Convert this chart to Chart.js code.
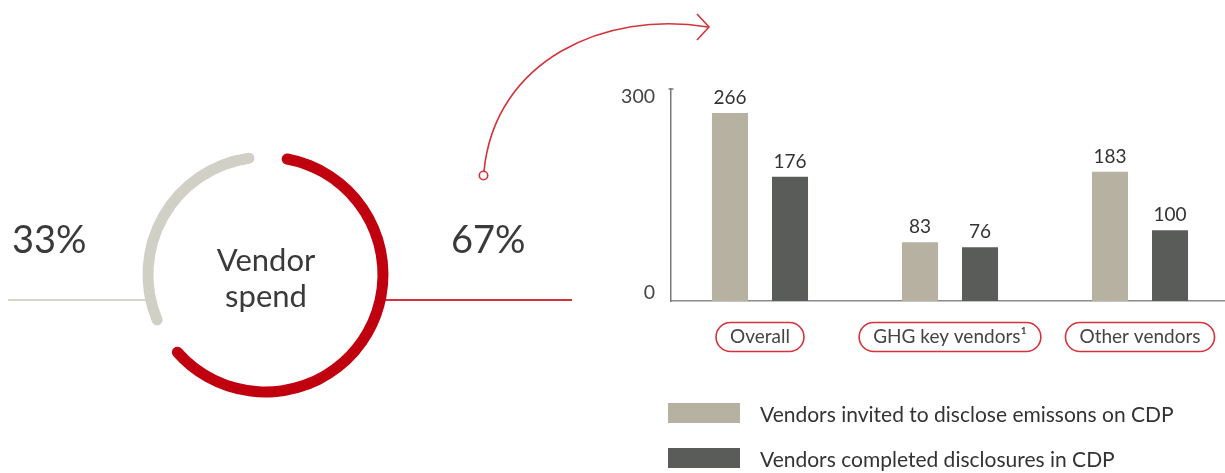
<!DOCTYPE html>
<html>
<head>
<meta charset="utf-8">
<script src="https://cdn.jsdelivr.net/npm/chart.js@4.4.0/dist/chart.umd.min.js"></script>
<style>
  html, body { margin: 0; padding: 0; background: #fff; overflow: hidden; width: 1225px; height: 473px; }
  #wrap { position: relative; width: 1225px; height: 473px; overflow: hidden; font-family: Lato, "Noto Sans", sans-serif; color: #333; }
  canvas { position: absolute; top: 0; }
  #donut { left: 0; }
  #bars { left: 563px; }
  .t { position: absolute; white-space: nowrap; font-weight: 400; color: #3a3a3a; }
  #pctGray, #pctRed { font-size: 38px; line-height: 38px; top: 219px; }
  #pctGray { left: 12px; }
  #pctRed { left: 451px; }
  #center { left: 166px; width: 200px; text-align: center; font-size: 31px; line-height: 36px; top: 241px; }
  #legend { position: absolute; left: 668px; top: 403px; }
  .lg { display: flex; align-items: center; height: 20px; margin-bottom: 25px; font-size: 21px; color: #333; white-space: nowrap; }
  .lg .sw { width: 72px; height: 20px; margin-right: 20px; flex: none; }
</style>
</head>
<body>
<div id="wrap">
  <canvas id="donut" width="1225" height="473"></canvas>
  <canvas id="bars" width="697" height="473"></canvas>
  <div class="t" id="pctGray"></div>
  <div class="t" id="pctRed"></div>
  <div class="t" id="center">Vendor<br>spend</div>
  <div id="legend"></div>
</div>
<script>
// ---- data ----
const spendLabels = ['Vendors invited to CDP (share of vendor spend)', 'Other vendors (share of vendor spend)'];
const spendShares = [67, 33];
const spendColors = ['#c0000e', '#d1d0c6'];

const categories = ['Overall', 'GHG key vendors\u00B9', 'Other vendors'];
const invited = [266, 83, 183];
const completed = [176, 76, 100];
const seriesLabels = ['Vendors invited to disclose emissons on CDP', 'Vendors completed disclosures in CDP'];
const seriesColors = ['#b7b1a1', '#5a5c5a'];
const yTicks = [0, 300];

const FONT = 'Lato, "Noto Sans", sans-serif';
const RED = '#d5333b';

// ---- donut ----
const SPACING = 16.8;
const decor = {
  id: 'decor',
  beforeDatasetsDraw(chart) {
    const arc = chart.getDatasetMeta(0).data[0];
    const cx = arc.x, cy = arc.y;
    const R = arc.outerRadius + SPACING / 2;
    const dy = 25.5;
    const half = Math.sqrt(R * R - dy * dy);
    const ctx = chart.ctx;
    ctx.save();
    ctx.lineWidth = 2;
    ctx.strokeStyle = '#d6d5cc';
    ctx.beginPath(); ctx.moveTo(8, cy + dy); ctx.lineTo(cx - half + 2, cy + dy); ctx.stroke();
    ctx.strokeStyle = RED;
    ctx.beginPath(); ctx.moveTo(cx + half - 2, cy + dy); ctx.lineTo(572, cy + dy); ctx.stroke();
    // arrow
    ctx.lineWidth = 1.6;
    ctx.beginPath();
    ctx.moveTo(484, 171);
    ctx.bezierCurveTo(495, 60, 605, 10, 708, 27);
    ctx.stroke();
    ctx.beginPath();
    ctx.moveTo(697, 14); ctx.lineTo(709, 27); ctx.lineTo(697, 40);
    ctx.stroke();
    ctx.beginPath();
    ctx.fillStyle = '#fff';
    ctx.arc(483.5, 175.5, 4.2, 0, Math.PI * 2);
    ctx.fill(); ctx.stroke();
    ctx.restore();
  }
};

const donut = new Chart(document.getElementById('donut'), {
  type: 'doughnut',
  data: {
    labels: spendLabels,
    datasets: [{
      data: spendShares,
      backgroundColor: spendColors,
      borderWidth: 0,
      spacing: SPACING,
      borderRadius: 6
    }]
  },
  options: {
    responsive: false,
    animation: false,
    rotation: -1,
    radius: 114.6,
    cutout: '90.4%',
    layout: { padding: { left: 0, top: 76, right: 694, bottom: 0 } },
    events: [],
    plugins: { legend: { display: false }, tooltip: { enabled: false } }
  },
  plugins: [decor]
});

document.getElementById('pctRed').textContent = spendShares[0] + '%';
document.getElementById('pctGray').textContent = spendShares[1] + '%';

// ---- bars ----
const valueLabels = {
  id: 'valueLabels',
  afterDatasetsDraw(chart) {
    const ctx = chart.ctx;
    ctx.save();
    ctx.font = '19px ' + FONT;
    ctx.fillStyle = '#333';
    ctx.textAlign = 'center';
    ctx.textBaseline = 'alphabetic';
    chart.data.datasets.forEach((ds, di) => {
      chart.getDatasetMeta(di).data.forEach((bar, i) => {
        ctx.fillText(String(ds.data[i].y), bar.x, bar.y - 9);
      });
    });
    ctx.restore();
  }
};

const pills = {
  id: 'pills',
  afterDraw(chart) {
    const s = chart.scales.x;
    const t = s.options.ticks;
    const ctx = chart.ctx;
    ctx.save();
    ctx.font = t.font.size + 'px ' + FONT;
    ctx.strokeStyle = RED;
    ctx.lineWidth = 1.6;
    const cy = s.top + t.padding + 11;
    s.ticks.forEach((tk, i) => {
      const x = s.getPixelForValue(tk.value);
      const w = ctx.measureText(categories[i]).width + 28;
      const h = 29;
      ctx.beginPath();
      ctx.roundRect(x - w / 2, cy - h / 2, w, h, h / 2);
      ctx.stroke();
    });
    // y-axis top cap
    const y = chart.scales.y;
    ctx.strokeStyle = '#7a7a7a';
    ctx.lineWidth = 1.5;
    ctx.beginPath();
    ctx.moveTo(y.right - 2.5, y.top); ctx.lineTo(y.right + 2.5, y.top);
    ctx.stroke();
    ctx.restore();
  }
};

const bars = new Chart(document.getElementById('bars'), {
  type: 'bar',
  data: {
    datasets: [
      { label: seriesLabels[0], data: invited.map((v, i) => ({ x: i, y: v })), backgroundColor: seriesColors[0], barPercentage: 0.6, categoryPercentage: 0.632 },
      { label: seriesLabels[1], data: completed.map((v, i) => ({ x: i, y: v })), backgroundColor: seriesColors[1], barPercentage: 0.6, categoryPercentage: 0.632 }
    ]
  },
  options: {
    responsive: false,
    animation: false,
    events: [],
    layout: { padding: { left: 0, right: 0, top: 89, bottom: 0 } },
    plugins: { legend: { display: false }, tooltip: { enabled: false } },
    scales: {
      x: {
        type: 'linear',
        offset: false,
        bounds: 'data',
        min: -89 / 190,
        max: 500 / 190,
        afterBuildTicks(s) { s.ticks = categories.map((c, i) => ({ value: i })); },
        afterFit(s) { s.height = 172; },
        grid: { display: false, offset: false, drawTicks: false, tickLength: 0 },
        border: { display: true, color: '#8a8a8a', width: 1.5 },
        ticks: {
          callback: (v) => categories[Math.round(v)],
          color: '#444',
          font: { family: FONT, size: 19, lineHeight: '22px' },
          padding: 25,
          maxRotation: 0,
          autoSkip: false
        }
      },
      y: {
        min: 0,
        max: 300,
        afterBuildTicks(s) { s.ticks = yTicks.map(v => ({ value: v })); },
        afterFit(s) { s.width = 108; },
        grid: { display: false, drawTicks: false, tickLength: 0 },
        border: { display: true, color: '#7a7a7a', width: 1.5 },
        ticks: {
          callback: (v) => v === yTicks[1] ? ['', String(v)] : [String(v), ''],
          color: '#444',
          font: { family: FONT, size: 19.5, lineHeight: '16px' },
          padding: 16
        }
      }
    }
  },
  plugins: [valueLabels, pills]
});

// ---- legend (HTML, generated from the chart) ----
const legendEl = document.getElementById('legend');
bars.data.datasets.forEach(ds => {
  const row = document.createElement('div');
  row.className = 'lg';
  const sw = document.createElement('span');
  sw.className = 'sw';
  sw.style.background = ds.backgroundColor;
  const tx = document.createElement('span');
  tx.textContent = ds.label;
  row.appendChild(sw); row.appendChild(tx);
  legendEl.appendChild(row);
});
</script>
</body>
</html>
